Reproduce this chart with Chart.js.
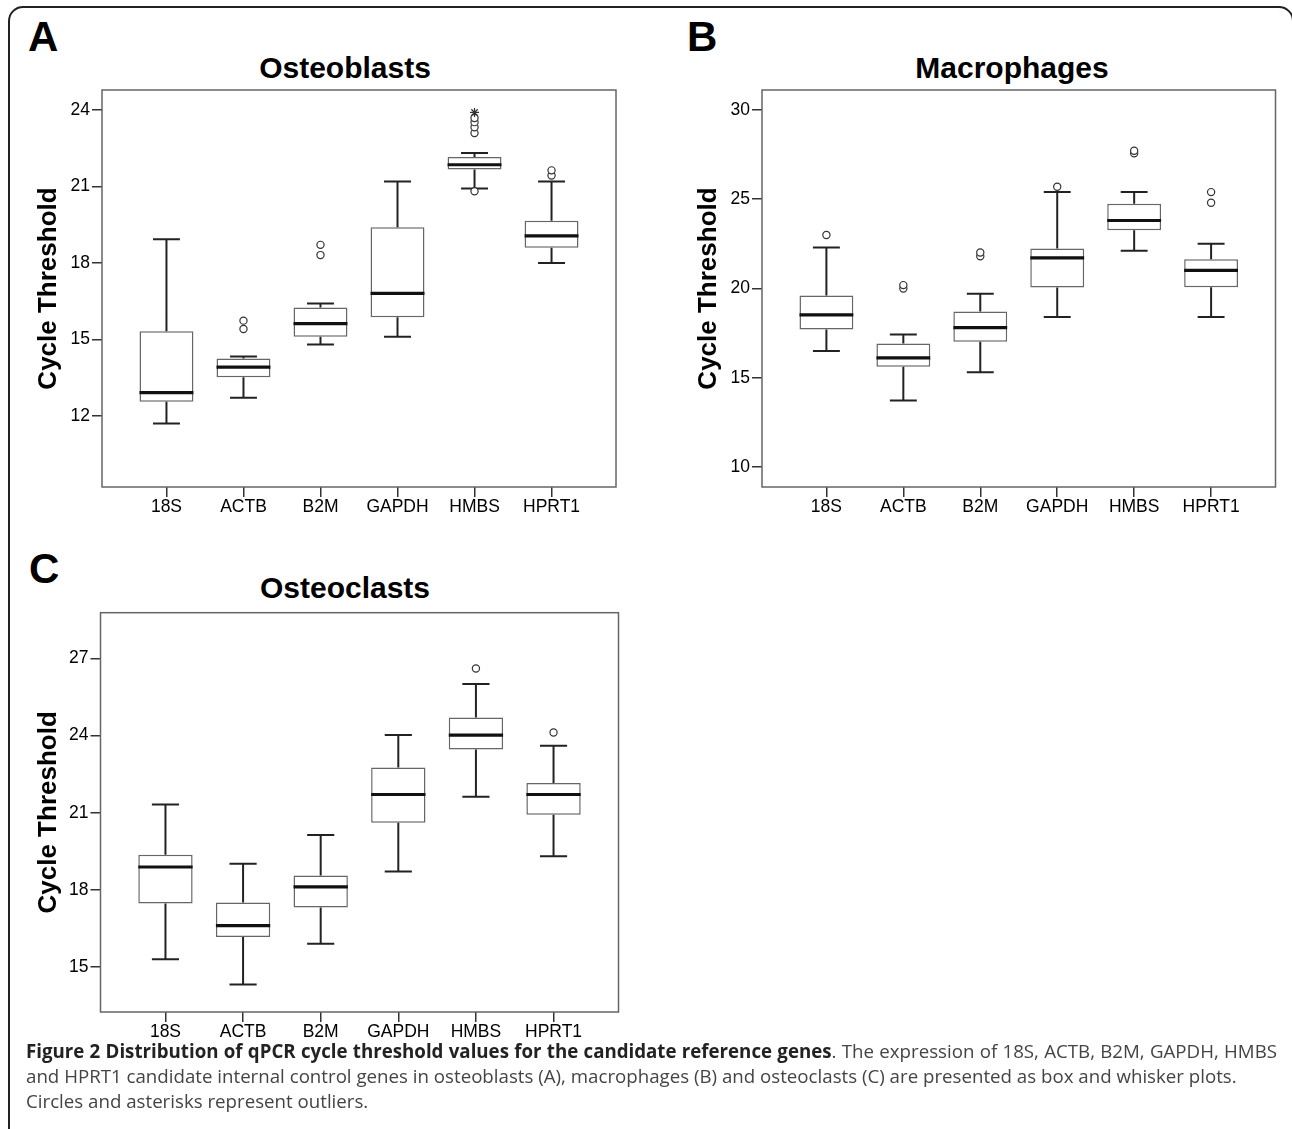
<!DOCTYPE html>
<html>
<head>
<meta charset="utf-8">
<script src="https://cdn.jsdelivr.net/npm/chart.js@4.4.1/dist/chart.umd.min.js"></script>
<style>
  body { margin: 0; width: 1292px; height: 1129px; overflow: hidden; background: #fff; position: relative; font-family: "Liberation Sans", Arial, sans-serif; }
  .frame { position: absolute; left: 8px; top: 6px; width: 1286px; height: 1300px; border: 2px solid #222; border-radius: 15px; box-sizing: border-box; }
  .letter { position: absolute; font-weight: bold; font-size: 42px; line-height: 42px; color: #000; }
  .title { position: absolute; width: 400px; text-align: center; font-weight: bold; font-size: 30px; line-height: 30px; color: #000; }
  canvas { position: absolute; }
  .caption { position: absolute; left: 26px; top: 1038px; width: 1251px; font-family: "Open Sans", sans-serif; font-size: 18.7px; line-height: 25px; color: #444; }
  .caption .l1 { text-align: justify; text-align-last: justify; white-space: nowrap; }
  .caption b { color: #222; }
</style>
</head>
<body>
<div class="frame"></div>

<div class="letter" style="left:28px;top:16px">A</div>
<div class="letter" style="left:687px;top:16px">B</div>
<div class="letter" style="left:29px;top:548px">C</div>

<div class="title" style="left:145px;top:53px">Osteoblasts</div>
<div class="title" style="left:812px;top:53px">Macrophages</div>
<div class="title" style="left:145px;top:573px">Osteoclasts</div>

<canvas id="chartA" width="640" height="520" style="left:0;top:0"></canvas>
<canvas id="chartB" width="632" height="520" style="left:660px;top:0"></canvas>
<canvas id="chartC" width="640" height="525" style="left:0;top:520px"></canvas>

<div class="caption">
  <div class="l1"><b>Figure 2 Distribution of qPCR cycle threshold values for the candidate reference genes</b>. The expression of 18S, ACTB, B2M, GAPDH, HMBS</div>
  <div>and HPRT1 candidate internal control genes in osteoblasts (A), macrophages (B) and osteoclasts (C) are presented as box and whisker plots.</div>
  <div>Circles and asterisks represent outliers.</div>
</div>

<script>
const genes = ["18S", "ACTB", "B2M", "GAPDH", "HMBS", "HPRT1"];

// osteoblasts
const minA = [11.71, 12.72, 14.81, 15.11, 20.92, 18.00];
const q1A  = [12.56, 13.52, 15.11, 15.87, 21.66, 18.60];
const medA = [12.92, 13.92, 15.62, 16.81, 21.85, 19.06];
const q3A  = [15.32, 14.26, 16.26, 19.40, 22.15, 19.66];
const maxA = [18.93, 14.33, 16.41, 21.19, 22.31, 21.19];
const outA = [[], [15.41, 15.74], [18.31, 18.71], [], [20.81, 23.09, 23.32, 23.52, 23.68], [21.43, 21.63]];
const extA = [[], [], [], [], [23.90], []];
const yTicksA = [12, 15, 18, 21, 24];

// macrophages
const minB = [16.50, 13.72, 15.31, 18.41, 22.11, 18.41];
const q1B  = [17.70, 15.61, 17.01, 20.06, 23.27, 20.07];
const medB = [18.52, 16.11, 17.81, 21.72, 23.81, 21.01];
const q3B  = [19.61, 16.92, 18.71, 22.24, 24.75, 21.64];
const maxB = [22.30, 17.42, 19.70, 25.40, 25.40, 22.50];
const outB = [[23.00], [20.00, 20.19], [21.81, 22.02], [25.70], [27.57, 27.72], [24.80, 25.40]];
const extB = [[], [], [], [], [], []];
const yTicksB = [10, 15, 20, 25, 30];

// osteoclasts
const minC = [15.30, 14.32, 15.90, 18.71, 21.62, 19.31];
const q1C  = [17.47, 16.17, 17.31, 20.61, 23.46, 20.92];
const medC = [18.89, 16.61, 18.12, 21.71, 24.02, 21.71];
const q3C  = [19.37, 17.51, 18.56, 22.76, 24.70, 22.16];
const maxC = [21.32, 19.02, 20.13, 24.02, 26.01, 23.61];
const outC = [[], [], [], [], [26.61], [24.12]];
const extC = [[], [], [], [], [], []];
const yTicksC = [15, 18, 21, 24, 27];

const boxHalf = 0.35;
const capHalf = 0.175;
const fontFamily = '"Liberation Sans", Arial, sans-serif';

const framePlugin = {
  id: "frame",
  beforeDatasetsDraw(chart) {
    const { ctx, chartArea: a } = chart;
    ctx.save();
    ctx.strokeStyle = "#666";
    ctx.lineWidth = 1.5;
    ctx.strokeRect(a.left, a.top, a.right - a.left, a.bottom - a.top);
    ctx.restore();
  }
};

function makeChart(id, min, q1, med, q3, max, out, ext, yMin, yMax, yTicks, pad, titlePad) {
  let whiskers = [];
  let caps = [];
  let medians = [];
  let circles = [];
  let stars = [];
  genes.forEach((g, i) => {
    whiskers.push({ x: i, y: max[i] }, { x: i, y: q3[i] }, { x: i, y: null },
                  { x: i, y: q1[i] }, { x: i, y: min[i] }, { x: i, y: null });
    caps.push({ x: i - capHalf, y: max[i] }, { x: i + capHalf, y: max[i] }, { x: i, y: null },
              { x: i - capHalf, y: min[i] }, { x: i + capHalf, y: min[i] }, { x: i, y: null });
    medians.push({ x: i - boxHalf, y: med[i] }, { x: i + boxHalf, y: med[i] }, { x: i, y: null });
    out[i].forEach(v => circles.push({ x: i, y: v }));
    ext[i].forEach(v => stars.push({ x: i, y: v }));
  });

  let tickGrid = { display: true, offset: false, drawOnChartArea: false, drawTicks: true, tickLength: 10, color: "#333", lineWidth: 1.5 };

  return new Chart(document.getElementById(id), {
    type: "bar",
    data: {
      datasets: [
        { type: "scatter", data: stars, pointStyle: "star", pointRadius: 4.5, borderColor: "#333", borderWidth: 1.2 },
        { type: "scatter", data: circles, pointStyle: "circle", pointRadius: 3.6, backgroundColor: "#fff", borderColor: "#333", borderWidth: 1.2 },
        { type: "line", data: medians, borderColor: "#111", borderWidth: 3.2, pointRadius: 0, spanGaps: false },
        { type: "line", data: caps, borderColor: "#222", borderWidth: 2, pointRadius: 0, spanGaps: false },
        { type: "line", data: whiskers, borderColor: "#222", borderWidth: 2, pointRadius: 0, spanGaps: false },
        {
          type: "bar",
          data: genes.map((g, i) => ({ x: i, y: [q1[i], q3[i]] })),
          backgroundColor: "#fff",
          borderColor: "#666",
          borderWidth: 1.5,
          borderSkipped: false,
          categoryPercentage: 1,
          barPercentage: boxHalf * 2
        }
      ]
    },
    options: {
      responsive: false,
      animation: false,
      events: [],
      layout: { padding: pad },
      plugins: { legend: { display: false }, tooltip: { enabled: false } },
      scales: {
        x: {
          type: "linear",
          offset: false,
          min: -0.837,
          max: 5.837,
          afterBuildTicks: s => { s.ticks = genes.map((g, i) => ({ value: i })); },
          afterFit: s => { s.height = 33; },
          grid: tickGrid,
          border: { display: false },
          ticks: { padding: 0, color: "#000", autoSkip: false, maxRotation: 0,
                   font: { family: fontFamily, size: 17.5 }, callback: v => genes[v] }
        },
        y: {
          type: "linear",
          min: yMin,
          max: yMax,
          afterBuildTicks: s => { s.ticks = yTicks.map(v => ({ value: v })); },
          afterFit: s => { s.width = 72; },
          grid: tickGrid,
          border: { display: false },
          ticks: { padding: 2, color: "#000", font: { family: fontFamily, size: 17.5 } },
          title: { display: true, text: "Cycle Threshold", color: "#000",
                   font: { family: fontFamily, size: 26, weight: "bold" },
                   padding: { top: titlePad, bottom: 0 } }
        }
      }
    },
    plugins: [framePlugin]
  });
}

makeChart("chartA", minA, q1A, medA, q3A, maxA, outA, extA, 9.22, 24.78, yTicksA,
          { left: 30, right: 24, top: 90, bottom: 0 }, 3);
makeChart("chartB", minB, q1B, medB, q3B, maxB, outB, extB, 8.88, 31.12, yTicksB,
          { left: 30, right: 16.5, top: 90, bottom: 0 }, 3);
makeChart("chartC", minC, q1C, medC, q3C, maxC, outC, extC, 13.25, 28.78, yTicksC,
          { left: 28.5, right: 21.5, top: 92.7, bottom: 0 }, 5);
</script>
</body>
</html>
